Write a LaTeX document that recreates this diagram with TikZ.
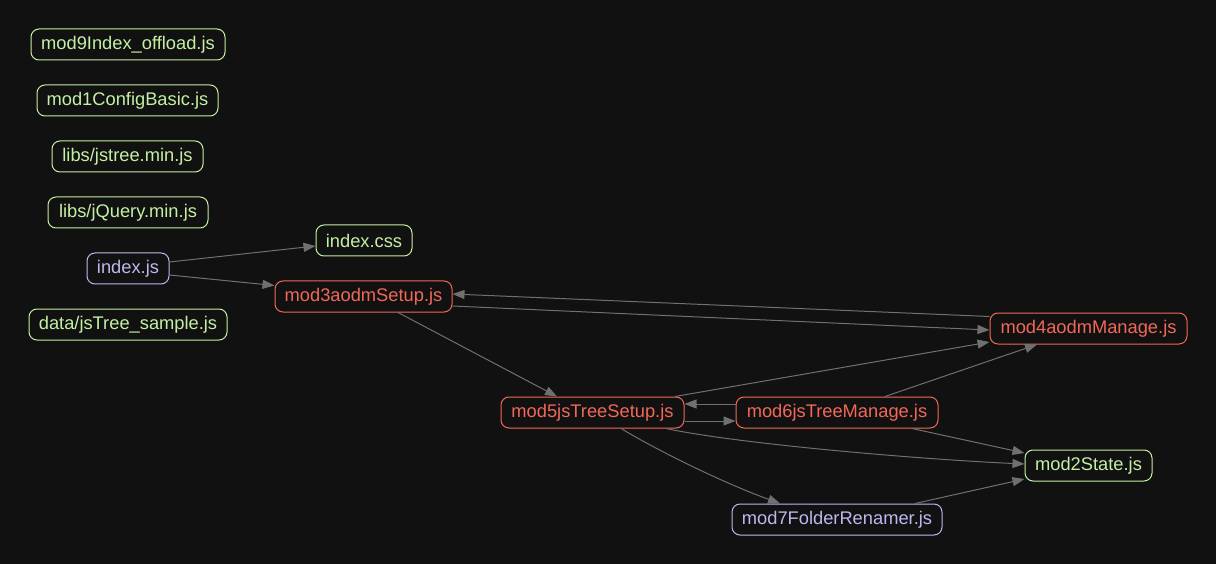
\documentclass[tikz,border=0pt]{standalone}
\usepackage{fontspec}
\setmainfont{Liberation Sans}
\usetikzlibrary{arrows.meta}
\definecolor{bg}{RGB}{17,17,17}
\definecolor{gn}{RGB}{196,240,164}
\definecolor{rd}{RGB}{242,104,88}
\definecolor{pu}{RGB}{188,184,238}
\definecolor{eg}{RGB}{112,112,112}
\tikzset{
  box/.style={draw, rounded corners=8pt, line width=1pt, minimum height=31pt, inner sep=0pt,
    font=\fontsize{18.3}{22}\selectfont},
  gbox/.style={box, draw=gn, text=gn},
  rbox/.style={box, draw=rd, text=rd},
  pbox/.style={box, draw=pu, text=pu},
  edge/.style={draw=eg, line width=1pt, -{Triangle[length=12pt,width=9pt]}, color=eg}
}
\begin{document}
\begin{tikzpicture}[x=1pt,y=-1pt]
\fill[bg] (0,0) rectangle (1216,564);
\useasboundingbox (0,0) rectangle (1216,564);
\node[gbox, minimum width=194pt] (m9) at (128,44.5) {mod9Index\_offload.js};
\node[gbox, minimum width=181pt] (m1) at (127.5,100.5) {mod1ConfigBasic.js};
\node[gbox, minimum width=151pt] (jst) at (127.5,156.5) {libs/jstree.min.js};
\node[gbox, minimum width=160pt] (jq) at (128,212.5) {libs/jQuery.min.js};
\node[pbox, minimum width=82pt] (idx) at (128,268.5) {index.js};
\node[gbox, minimum width=198pt] (data) at (128,324.5) {data/jsTree\_sample.js};
\node[gbox, minimum width=96pt] (css) at (364,240.5) {index.css};
\node[rbox, minimum width=177pt] (m3) at (363.5,296.5) {mod3aodmSetup.js};
\node[rbox, minimum width=197pt] (m4) at (1088.5,328.5) {mod4aodmManage.js};
\node[rbox, minimum width=183pt] (m5) at (592.5,412.5) {mod5jsTreeSetup.js};
\node[rbox, minimum width=202pt] (m6) at (837,412.5) {mod6jsTreeManage.js};
\node[gbox, minimum width=127pt] (m2) at (1088.5,465.5) {mod2State.js};
\node[pbox, minimum width=210pt] (m7) at (837,519.5) {mod7FolderRenamer.js};

\draw[edge] ([yshift=6.5pt]idx.east) -- ([yshift=-5.5pt]css.west);
\draw[edge] ([yshift=-6.5pt]idx.east) -- ([yshift=11pt]m3.west);
\draw[edge] ([yshift=12pt]m4.west) -- ([yshift=2.5pt]m3.east);
\draw[edge] ([yshift=-9.5pt]m3.east) -- ([yshift=-1.5pt]m4.west);
\draw[edge] ([xshift=34.5pt]m3.south) -- ([xshift=-35.5pt]m5.north);
\draw[edge] ([xshift=82.5pt]m5.north) -- ([yshift=-13.5pt]m4.west);
\draw[edge] ([yshift=8.5pt]m6.west) -- ([yshift=8.5pt]m5.east);
\draw[edge] ([yshift=-8.5pt]m5.east) -- ([yshift=-8.5pt]m6.west);
\draw[edge] ([xshift=48pt]m6.north) -- ([xshift=-51.5pt]m4.south);
\draw[edge] ([xshift=75pt]m6.south) -- ([yshift=12.5pt]m2.west);
\draw[edge] ([xshift=73.5pt]m5.south) .. controls +(70,15) and +(-110,-5) .. ([yshift=1.5pt]m2.west);
\draw[edge] ([xshift=28.5pt]m5.south) .. controls +(40,24) and +(-55,-20) .. ([xshift=-57pt]m7.north);
\draw[edge] ([xshift=78pt]m7.north) -- ([yshift=-13.5pt]m2.west);
\end{tikzpicture}
\end{document}
